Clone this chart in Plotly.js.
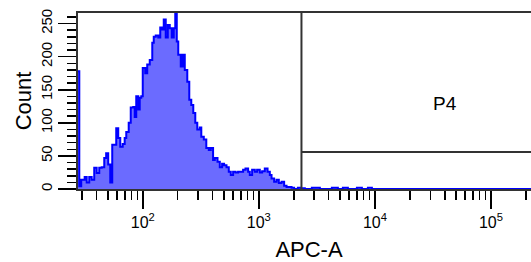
<!DOCTYPE html>
<html>
<head>
<meta charset="utf-8">
<script src="https://cdn.plot.ly/plotly-3.0.1.min.js"></script>
<style>
html, body { margin: 0; padding: 0; overflow: hidden; background: #fff; }
#chart { width: 545px; height: 262px; }
</style>
</head>
<body>
<div id="chart"></div>
<script>
// APC-A intensity (left edge of each histogram bin) and event counts
const apcValues = [
  26.4, 28.4, 29.5, 31.6, 32.9, 34.6, 36.3, 38.2, 40.1, 42.2,
  44.3, 46.6, 48.4, 50.4, 52.5, 54.6, 59.1, 61.5, 64.0, 67.2,
  69.9, 72.1, 75.7, 78.8, 82.8, 85.3, 87.9, 91.5, 94.2, 97.1,
  100, 105.1, 109.3, 114.9, 120.8, 124.4, 129.4, 136.0, 141.5, 147.3,
  151.7, 157.8, 164.3, 170.9, 177.8, 185.0, 190.6, 196.4, 202.3, 212.6,
  221.2, 230.2, 241.9, 251.7, 261.9, 272.5, 283.5, 295.0, 310.0, 319.4,
  335.7, 352.7, 370.7, 385.7, 403.6, 417.6, 440.6, 461.1, 482.6, 502.1,
  526.6, 551.2, 573.5, 600.3, 629.6, 663.0, 699.5, 732.2, 767.8, 808.5,
  836.2, 875.3, 923.7, 966.7, 1020, 1068, 1126, 1189, 1244, 1287,
  1355, 1421, 1487, 1569, 1652, 1733, 1814, 1914, 2015, 2169,
  2302, 2492, 2863, 3357, 4259, 4797, 5298, 5851, 6995, 7726,
  8701, 9421, 330000
];
const counts = [
  178, 4, 14, 18, 10, 18, 14, 32, 24, 32,
  33, 47, 54, 37, 10, 67, 92, 77, 64, 68,
  77, 86, 100, 123, 124, 109, 140, 120, 138, 140,
  183, 175, 188, 195, 221, 230, 232, 229, 244, 241,
  256, 229, 248, 243, 229, 243, 275, 223, 203, 185,
  203, 180, 162, 135, 127, 115, 100, 90, 93, 79,
  75, 62, 59, 62, 44, 47, 41, 33, 38, 36,
  33, 26, 21, 26, 25, 26, 26, 29, 31, 26,
  21, 29, 26, 29, 25, 27, 31, 26, 21, 16,
  11, 14, 9, 11, 5, 3, 3, 2, 0, 2,
  1, 0, 2, 0, 2, 0, 2, 0, 2, 0,
  2, 0, 0
];

const xMajorTicks = [100, 1000, 10000, 100000];
const xMajorText = ['10<sup>2</sup>', '10<sup>3</sup>', '10<sup>4</sup>', '10<sup>5</sup>'];
const xMinorTicks = [
  30, 40, 50, 60, 70, 80, 90,
  200, 300, 400, 500, 600, 700, 800, 900,
  2000, 3000, 4000, 5000, 6000, 7000, 8000, 9000,
  20000, 30000, 40000, 50000, 60000, 70000, 80000, 90000,
  200000
];
const yMajorTicks = [0, 50, 100, 150, 200, 250];

// Gate P4
const gateName = 'P4';
const gateMinAPC = 2330;
const gateMinCount = 56;
const gateLabelAPC = 40500;
const gateLabelCount = 129;

const font = 'Liberation Sans, Arial, sans-serif';
const lineCol = '#333333';

const trace = {
  type: 'scatter',
  mode: 'lines',
  x: apcValues,
  y: counts,
  line: { shape: 'hv', color: '#0000ff', width: 2 },
  fill: 'tozeroy',
  fillcolor: '#6b6bff',
  hoverinfo: 'skip'
};

const layout = {
  width: 545,
  height: 262,
  margin: { l: 78, r: 5, t: 13, b: 73 },
  paper_bgcolor: '#ffffff',
  plot_bgcolor: '#ffffff',
  showlegend: false,
  font: { family: font, color: '#000000' },
  xaxis: {
    type: 'log',
    range: [1.4422, 5.4224],
    showline: true, mirror: true, linecolor: lineCol, linewidth: 2,
    showgrid: false, zeroline: false,
    ticks: 'outside', ticklen: 18, tickwidth: 1.5, tickcolor: '#000',
    tickmode: 'array', tickvals: xMajorTicks, ticktext: xMajorText,
    tickfont: { size: 16, family: font },
    minor: { tickmode: 'array', tickvals: xMinorTicks, ticks: 'outside', ticklen: 9, tickwidth: 1.5, tickcolor: '#000', showgrid: false },
    title: { text: 'APC-A', font: { size: 22, family: font }, standoff: 11 }
  },
  yaxis: {
    range: [0, 266],
    showline: true, mirror: true, linecolor: lineCol, linewidth: 2,
    showgrid: false, zeroline: false,
    ticks: 'outside', ticklen: 18, tickwidth: 1.5, tickcolor: '#000',
    tickmode: 'array', tickvals: yMajorTicks,
    tickangle: -90,
    tickfont: { size: 15, family: font },
    minor: { tickmode: 'linear', tick0: 0, dtick: 10, ticks: 'outside', ticklen: 9, tickwidth: 1.5, tickcolor: '#000', showgrid: false },
    title: { text: 'Count', font: { size: 22, family: font }, standoff: 0 }
  },
  shapes: [
    { type: 'line', xref: 'x', yref: 'paper', x0: gateMinAPC, x1: gateMinAPC, y0: 0, y1: 1,
      line: { color: lineCol, width: 2 } },
    { type: 'line', xref: 'x', yref: 'y', x0: gateMinAPC, x1: 300000, y0: gateMinCount, y1: gateMinCount,
      line: { color: lineCol, width: 2 } }
  ],
  annotations: [
    { xref: 'x', yref: 'y', x: Math.log10(gateLabelAPC), y: gateLabelCount, text: gateName,
      showarrow: false, font: { size: 19, family: font, color: '#000' } }
  ]
};

Plotly.newPlot('chart', [trace], layout, { displayModeBar: false, staticPlot: true });
</script>
</body>
</html>
